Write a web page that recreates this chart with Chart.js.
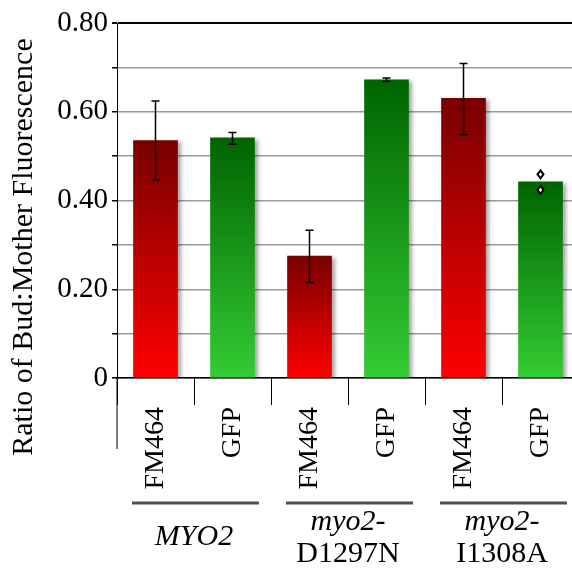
<!DOCTYPE html>
<html lang="en">
<head>
<meta charset="UTF-8">
<title>Bud:Mother Fluorescence</title>
<script src="https://cdn.jsdelivr.net/npm/chart.js"></script>
<style>
  html, body { margin: 0; padding: 0; overflow: hidden; background: #fff; }
  canvas { display: block; }
</style>
</head>
<body>
<canvas id="ratioChart" width="600" height="570"></canvas>
<script>
// data
const labels = ['FM464', 'GFP', 'FM464', 'GFP', 'FM464', 'GFP'];
const values = [0.535, 0.541, 0.275, 0.672, 0.630, 0.442];
const errLow = [0.446, 0.527, 0.215, 0.668, 0.548, 0.424];
const errHigh = [0.624, 0.553, 0.333, 0.676, 0.709, 0.459];
const markerStyle = ['bar', 'bar', 'bar', 'bar', 'bar', 'diamond'];
const groups = [
  { from: 0, to: 1, lines: [{ text: 'MYO2', italic: true }] },
  { from: 2, to: 3, lines: [{ text: 'myo2-', italic: true }, { text: 'D1297N', italic: false }] },
  { from: 4, to: 5, lines: [{ text: 'myo2-', italic: true }, { text: 'I1308A', italic: false }] }
];
const yTitle = 'Ratio of Bud:Mother Fluorescence';

const serif = '"Liberation Serif", "Times New Roman", serif';

function barFill(ctx) {
  const i = ctx.dataIndex;
  const isRed = labels[i] === 'FM464';
  const chart = ctx.chart;
  if (!chart.chartArea || i === undefined) return isRed ? '#c00000' : '#1a9a1a';
  const y = chart.scales.y;
  const top = y.getPixelForValue(values[i]);
  const base = y.getPixelForValue(0);
  const g = chart.ctx.createLinearGradient(0, top, 0, base);
  if (isRed) {
    g.addColorStop(0, '#780000');
    g.addColorStop(1, '#ff0000');
  } else {
    g.addColorStop(0, '#006400');
    g.addColorStop(1, '#34cc34');
  }
  return g;
}

const extras = {
  id: 'extras',
  beforeDatasetsDraw(chart) {
    const c = chart.ctx;
    c.save();
    c.shadowColor = 'rgba(0,0,0,0.35)';
    c.shadowOffsetX = 3;
    c.shadowOffsetY = 2;
    c.shadowBlur = 4;
  },
  afterDatasetsDraw(chart) {
    const c = chart.ctx;
    c.restore();
    const x = chart.scales.x, y = chart.scales.y;
    c.save();
    c.strokeStyle = '#000';
    c.lineWidth = 1.5;
    for (let i = 0; i < values.length; i++) {
      const px = x.getPixelForValue(i);
      const hi = y.getPixelForValue(errHigh[i]);
      const lo = y.getPixelForValue(errLow[i]);
      if (markerStyle[i] === 'diamond') {
        [hi, lo].forEach(py => {
          c.beginPath();
          c.moveTo(px, py - 4);
          c.lineTo(px + 3, py);
          c.lineTo(px, py + 4);
          c.lineTo(px - 3, py);
          c.closePath();
          c.fillStyle = '#fff';
          c.fill();
          c.lineWidth = 2;
          c.stroke();
        });
        c.lineWidth = 1.5;
        continue;
      }
      c.beginPath();
      c.moveTo(px, hi); c.lineTo(px, lo);
      c.moveTo(px - 4, hi); c.lineTo(px + 4, hi);
      c.moveTo(px - 4, lo); c.lineTo(px + 4, lo);
      c.stroke();
    }
    c.restore();
  },
  afterDraw(chart) {
    const c = chart.ctx;
    const area = chart.chartArea;
    const x = chart.scales.x;
    c.save();
    // y axis runs on below the x axis
    c.strokeStyle = '#000';
    c.lineWidth = 1;
    c.beginPath();
    c.moveTo(area.left, area.bottom);
    c.lineTo(area.left, 449);
    c.stroke();

    // group bars and labels
    const step = x.getPixelForValue(1) - x.getPixelForValue(0);
    groups.forEach(gr => {
      const left = x.getPixelForValue(gr.from) - step / 2;
      const right = x.getPixelForValue(gr.to) + step / 2;
      c.strokeStyle = '#505050';
      c.lineWidth = 3;
      c.beginPath();
      c.moveTo(left + 15, 503);
      c.lineTo(right - 12, 503);
      c.stroke();
      const cx = (left + right) / 2;
      c.fillStyle = '#000';
      c.textAlign = 'center';
      c.textBaseline = 'middle';
      const ys = gr.lines.length === 1 ? [537] : [522, 554];
      gr.lines.forEach((ln, k) => {
        c.font = (ln.italic ? 'italic ' : '') + '30px ' + serif;
        c.fillText(ln.text, cx, ys[k]);
      });
    });

    // y axis title
    c.translate(24, 247);
    c.rotate(-Math.PI / 2);
    c.font = '30px ' + serif;
    c.fillStyle = '#000';
    c.textAlign = 'center';
    c.textBaseline = 'middle';
    c.fillText(yTitle, 0, 0);
    c.restore();
  }
};

new Chart(document.getElementById('ratioChart'), {
  type: 'bar',
  data: {
    labels: labels,
    datasets: [{
      data: values,
      backgroundColor: barFill,
      borderWidth: 0,
      barThickness: 44
    }]
  },
  options: {
    responsive: false,
    animation: false,
    layout: { padding: { top: 23, right: 21, left: 0, bottom: 0 } },
    plugins: { legend: { display: false }, tooltip: { enabled: false } },
    scales: {
      x: {
        afterFit(scale) { scale.height = 192; },
        grid: {
          drawOnChartArea: false,
          drawTicks: true,
          tickLength: 27,
          offset: true,
          tickColor: '#000',
          lineWidth: 1
        },
        border: { color: '#000', width: 1.5 },
        ticks: {
          autoSkip: false,
          minRotation: 90,
          maxRotation: 90,
          padding: 2,
          color: '#000',
          font: { family: serif, size: 28 }
        }
      },
      y: {
        min: 0,
        max: 0.8,
        afterFit(scale) { scale.width = 117; },
        grid: {
          color: ctx => (ctx.tick && Math.round(ctx.tick.value * 10) === 8) ? '#000' : '#9a9a9a',
          lineWidth: ctx => (ctx.tick && Math.round(ctx.tick.value * 10) === 8) ? 2 : 1.5,
          tickLength: 5,
          tickColor: '#000'
        },
        border: { color: '#000', width: 1 },
        ticks: {
          stepSize: 0.1,
          padding: 4,
          color: '#000',
          font: { family: serif, size: 29 },
          callback: v => {
            const n = Math.round(v * 10);
            if (n % 2) return '';
            return n === 0 ? '0' : (n / 10).toFixed(2);
          }
        }
      }
    }
  },
  plugins: [extras]
});
</script>
</body>
</html>
